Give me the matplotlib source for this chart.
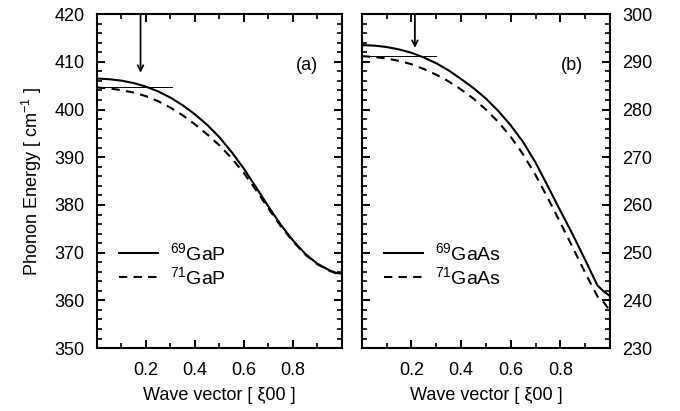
import matplotlib
matplotlib.use("Agg")
import matplotlib.pyplot as plt
from matplotlib.ticker import MultipleLocator, FixedLocator

plt.rcParams['font.family'] = ['Liberation Sans', 'DejaVu Sans']
plt.rcParams['mathtext.fontset'] = 'custom'
plt.rcParams['mathtext.rm'] = 'Liberation Sans'
plt.rcParams['mathtext.it'] = 'Liberation Sans'
# inward ticks on every side
plt.rcParams.update({
    'xtick.direction': 'in', 'ytick.direction': 'in',
    'xtick.top': True, 'ytick.right': True,
    'xtick.major.size': 6, 'ytick.major.size': 6,
    'xtick.minor.size': 3.5, 'ytick.minor.size': 3.5,
    'xtick.major.width': 1.4, 'ytick.major.width': 1.4,
    'xtick.minor.width': 1.2, 'ytick.minor.width': 1.2,
    'xtick.major.pad': 10, 'ytick.major.pad': 9,
    'xtick.labelsize': 13, 'ytick.labelsize': 13,
    'axes.axisbelow': False,
})

# wave vector [xi 0 0]
q = [0.0, 0.05, 0.1, 0.15, 0.2, 0.25, 0.3, 0.35, 0.4, 0.45, 0.5,
     0.55, 0.6, 0.65, 0.7, 0.75, 0.8, 0.85, 0.9, 0.95, 0.975, 1.0]

# (a) GaP
gap69 = [406.5, 406.35, 406.05, 405.55, 404.8, 403.8, 402.5, 400.9, 399.0, 396.8, 394.2,
         391.1, 387.6, 383.7, 379.7, 375.9, 372.6, 369.8, 367.7, 366.3, 365.8, 365.6]
gap71 = [404.6, 404.45, 404.05, 403.55, 402.8, 401.75, 400.4, 398.8, 396.9, 394.8, 392.5,
         389.8, 386.7, 383.1, 379.3, 375.6, 372.4, 369.65, 367.6, 366.2, 365.7, 365.5]

# (b) GaAs
gaas69 = [293.5, 293.4, 293.1, 292.6, 291.9, 290.9, 289.7, 288.2, 286.4, 284.5, 282.3,
          279.7, 276.7, 273.2, 268.9, 263.9, 258.8, 253.8, 248.5, 243.1, 241.9, 240.9]
gaas71 = [291.2, 291.0, 290.7, 290.2, 289.5, 288.5, 287.3, 285.9, 284.2, 282.3, 280.0,
          277.4, 274.3, 270.6, 266.3, 261.4, 256.3, 251.1, 245.8, 240.8, 239.6, 237.8]

# marker line / arrow (reference level and position)
ref_gap = 404.7
ref_gaas = 291.2
arrow_gap = (0.178, 407.7)
arrow_gaas = (0.214, 292.9)

fig = plt.figure(figsize=(6.8, 4.11), dpi=100)
ax1 = fig.add_axes([0.1426, 0.153, 0.360, 0.8127])
ax2 = fig.add_axes([0.532, 0.153, 0.365, 0.8127])

for ax, ylim in ((ax1, (350, 420)), (ax2, (230, 300))):
    ax.set_xlim(0, 1)
    ax.set_ylim(*ylim)
    ax.xaxis.set_major_locator(FixedLocator([0.2, 0.4, 0.6, 0.8]))
    ax.xaxis.set_minor_locator(MultipleLocator(0.1))
    ax.yaxis.set_major_locator(MultipleLocator(10))
    ax.yaxis.set_minor_locator(MultipleLocator(2))
    ax.set_xlabel('Wave vector [ \u03be00 ]', fontsize=13, labelpad=6)

ax1.plot(q, gap69, color='black', lw=1.5, label=r'$^{69}$GaP')
ax1.plot(q, gap71, color='black', lw=1.5, ls=(0, (4, 3)), label=r'$^{71}$GaP')
ax1.plot([0, 0.305], [ref_gap, ref_gap], color='black', lw=0.7)
ax1.annotate('', xy=arrow_gap, xytext=(arrow_gap[0], 420),
             arrowprops=dict(arrowstyle='->', color='black', lw=1.3, shrinkA=0, shrinkB=0))
ax1.text(0.857, 409.3, '(a)', fontsize=13, ha='center', va='center')
ax1.legend(loc='upper left', bbox_to_anchor=(0.02, 0.37), frameon=False, fontsize=14,
           handlelength=2.0, handletextpad=0.6, labelspacing=0.1)
ax1.set_ylabel('Phonon Energy [ cm$^{-1}$ ]', fontsize=13, labelpad=7)

ax2.plot(q, gaas69, color='black', lw=1.5, label=r'$^{69}$GaAs')
ax2.plot(q, gaas71, color='black', lw=1.5, ls=(0, (4, 3)), label=r'$^{71}$GaAs')
ax2.plot([0, 0.30], [ref_gaas, ref_gaas], color='black', lw=0.7)
ax2.annotate('', xy=arrow_gaas, xytext=(arrow_gaas[0], 300),
             arrowprops=dict(arrowstyle='->', color='black', lw=1.3, shrinkA=0, shrinkB=0))
ax2.text(0.847, 289.3, '(b)', fontsize=13, ha='center', va='center')
ax2.legend(loc='upper left', bbox_to_anchor=(0.02, 0.37), frameon=False, fontsize=14,
           handlelength=2.0, handletextpad=0.6, labelspacing=0.1)

# tick marks set last, labels of panel (b) on the right
for ax in (ax1, ax2):
    ax.set_axisbelow(False)
    ax.tick_params(which='major', direction='in', length=6, width=1.4, color='black',
                   top=True, bottom=True, left=True, right=True)
    ax.tick_params(which='minor', direction='in', length=3.5, width=1.2, color='black',
                   top=True, bottom=True, left=True, right=True)
    for s in ax.spines.values():
        s.set_linewidth(1.5)
ax2.tick_params(axis='y', which='both', labelleft=False, labelright=True)

fig.savefig('out.png', dpi=100)
